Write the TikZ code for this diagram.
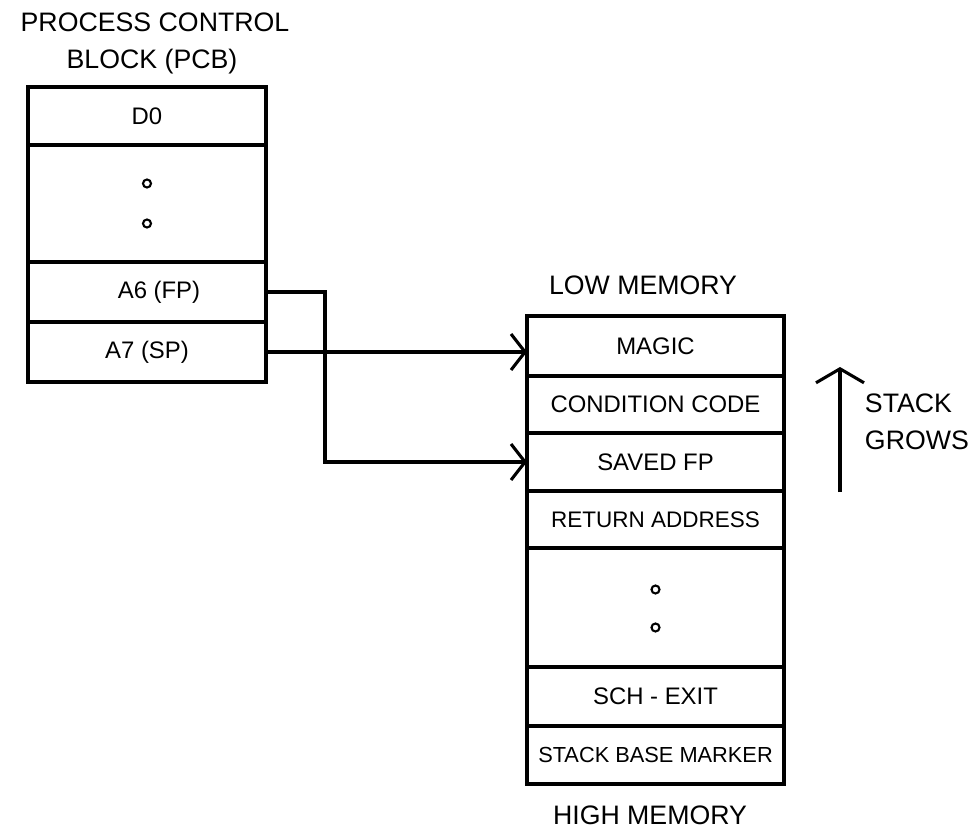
\documentclass[tikz,border=0pt]{standalone}
\usepackage{fontspec}
\setmainfont{Liberation Sans}
\usepackage{tikz}
\usetikzlibrary{positioning,arrows.meta}

\begin{document}
\begin{tikzpicture}
 [pcb cell/.style={draw, line width=2.2pt, minimum width=5.95cm, inner sep=0pt, outer sep=0pt, font=\fontsize{17}{20}\selectfont},
  stack cell/.style={draw, line width=2.2pt, minimum width=6.425cm, inner sep=0pt, outer sep=0pt, font=\fontsize{17}{20}\selectfont},
  dot/.style={circle, draw, line width=1.5pt, inner sep=0pt, minimum size=0.2cm},
  title/.style={font=\fontsize{19}{22}\selectfont},
  ptr/.style={line width=2.2pt, -{Straight Barb[length=0.35cm,width=0.9cm,line width=2.2pt]}}]

\useasboundingbox (0,0) rectangle (24.275,-20.875);

% process control block
\node[title] (t1) at (3.875,-0.55) {PROCESS CONTROL};
\node[title] (t2) at (3.8,-1.55) {BLOCK (PCB)};

\node[pcb cell, anchor=north, minimum height=1.45cm] (d0) at (3.675,-2.175) {D0};
\node[pcb cell, minimum height=2.925cm, below=0pt of d0] (pdots) {};
\node[pcb cell, minimum height=1.5cm, below=0pt of pdots] (a6) {\hspace*{0.6cm}A6 (FP)};
\node[pcb cell, minimum height=1.5cm, below=0pt of a6] (a7) {A7 (SP)};
\node[dot, yshift=0.5cm] (p1) at (pdots) {};
\node[dot, yshift=-0.5cm] (p2) at (pdots) {};

% stack frame
\node[title] (low) at (16.075,-7.125) {LOW MEMORY};

\node[stack cell, anchor=north, minimum height=1.5cm] (magic) at (16.3875,-7.9) {MAGIC};
\node[stack cell, minimum height=1.425cm, below=0pt of magic] (cc) {CONDITION CODE};
\node[stack cell, minimum height=1.45cm, below=0pt of cc] (sfp) {SAVED FP};
\node[stack cell, minimum height=1.425cm, below=0pt of sfp, font=\fontsize{16}{19}\selectfont] (ret) {RETURN ADDRESS};
\node[stack cell, minimum height=2.975cm, below=0pt of ret] (sdots) {};
\node[stack cell, minimum height=1.475cm, below=0pt of sdots] (sch) {SCH - EXIT};
\node[stack cell, minimum height=1.45cm, below=0pt of sch, font=\fontsize{15.5}{18}\selectfont] (sbm) {STACK BASE MARKER};
\node[dot, yshift=0.45cm] (s1) at (sdots) {};
\node[dot, yshift=-0.5cm] (s2) at (sdots) {};

\node[title] (high) at (16.25,-20.375) {HIGH MEMORY};

% stack grows
\coordinate (g1) at (21,-12.3);
\coordinate (g2) at (21,-9.175);
\draw[line width=2.2pt, -{Straight Barb[length=0.35cm,width=1.2cm,line width=2.2pt]}] (g1) -- (g2);
\node[title, anchor=west] (sg1) at (21.5,-10.075) {STACK};
\node[title, anchor=west] (sg2) at (21.5,-11.0) {GROWS};

% pointers
\coordinate (k) at (8.125,0);
\draw[ptr] (a6.east) -- (a6.east -| k) |- (sfp.west);
\draw[ptr] (a7.east) -- (a7.east -| magic.west);

\end{tikzpicture}
\end{document}
